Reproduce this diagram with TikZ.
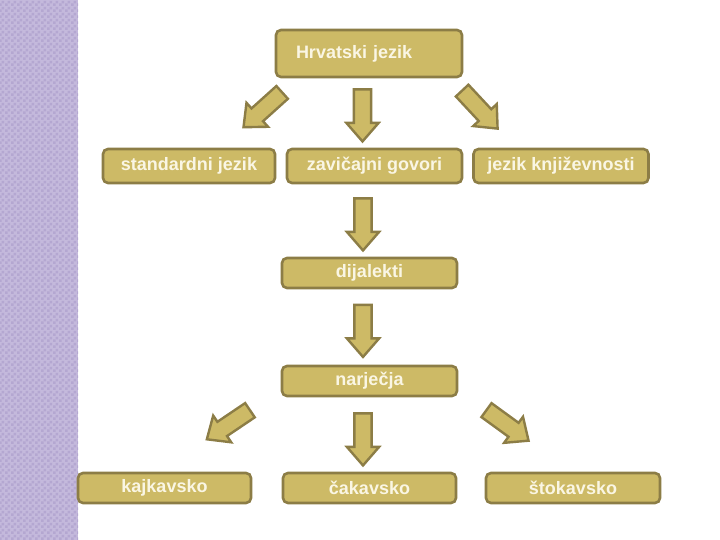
\documentclass[tikz,border=0pt]{standalone}
\usepackage{fontspec}
\setmainfont{Liberation Sans}
\usetikzlibrary{shapes.arrows,patterns.meta}
\definecolor{boxfill}{RGB}{205,186,102}
\definecolor{boxedge}{RGB}{140,125,70}
\definecolor{boxtext}{RGB}{250,246,228}
\definecolor{stripA}{RGB}{196,185,220}
\definecolor{stripB}{RGB}{180,167,209}
\tikzdeclarepattern{
  name=finecheck,
  type=uncolored,
  bottom left={(0pt,0pt)},
  top right={(6pt,6pt)},
  tile size={(6pt,6pt)},
  code={
    \fill (0pt,0pt) rectangle (3pt,3pt);
    \fill (3pt,3pt) rectangle (6pt,6pt);
  }
}
\tikzset{
  box/.style={draw=boxedge, fill=boxfill, line width=2.6pt, rounded corners=5pt,
    text=boxtext, font=\fontsize{18}{20}\selectfont\bfseries, inner sep=0pt, minimum height=#1},
  box/.default=30pt,
  blockarrow/.style={single arrow, draw=boxedge, fill=boxfill, line width=2.4pt,
    inner sep=7.4pt, single arrow head extend=7.5pt, minimum height=52pt,
    single arrow tip angle=82, rotate=#1},
}
\begin{document}
\begin{tikzpicture}[x=1pt,y=1pt]
\useasboundingbox (0,0) rectangle (720,540);
\fill[white] (0,0) rectangle (720,540);
\fill[stripA] (0,0) rectangle (78,540);
\fill[pattern=finecheck, pattern color=stripB] (0,0) rectangle (78,540);

\node[box=47pt, minimum width=186pt, text width=146pt, align=left] (hj) at (369,486.5) {Hrvatski jezik};
\node[box=34pt, minimum width=172pt] (std) at (189,374) {standardni jezik};
\node[box=34pt, minimum width=175pt] (zav) at (374.5,374) {zavičajni govori};
\node[box=34pt, minimum width=175pt] (knj) at (561,374) {jezik književnosti};
\node[box, minimum width=175pt] (dij) at (369.5,267) {dijalekti};
\node[box, minimum width=175pt] (nar) at (369.5,159) {narječja};
\node[box, minimum width=173pt] (kaj) at (164.5,52) {kajkavsko};
\node[box, minimum width=173pt] (cak) at (369.5,52) {čakavsko};
\node[box, minimum width=174pt] (sto) at (573,52) {štokavsko};

\node[blockarrow=-90] (a1) at (362.5,429.5) {};
\node[blockarrow=222] (a2) at (266.5,433.5) {};
\node[blockarrow=-47] (a3) at (476.5,434) {};
\node[blockarrow=-90] (a4) at (363,320.5) {};
\node[blockarrow=-90] (a5) at (363,214) {};
\node[blockarrow=-90] (a6) at (363,105.5) {};
\node[blockarrow=214] (a7) at (232.5,118) {};
\node[blockarrow=-36] (a8) at (503.5,117.5) {};
\end{tikzpicture}
\end{document}
